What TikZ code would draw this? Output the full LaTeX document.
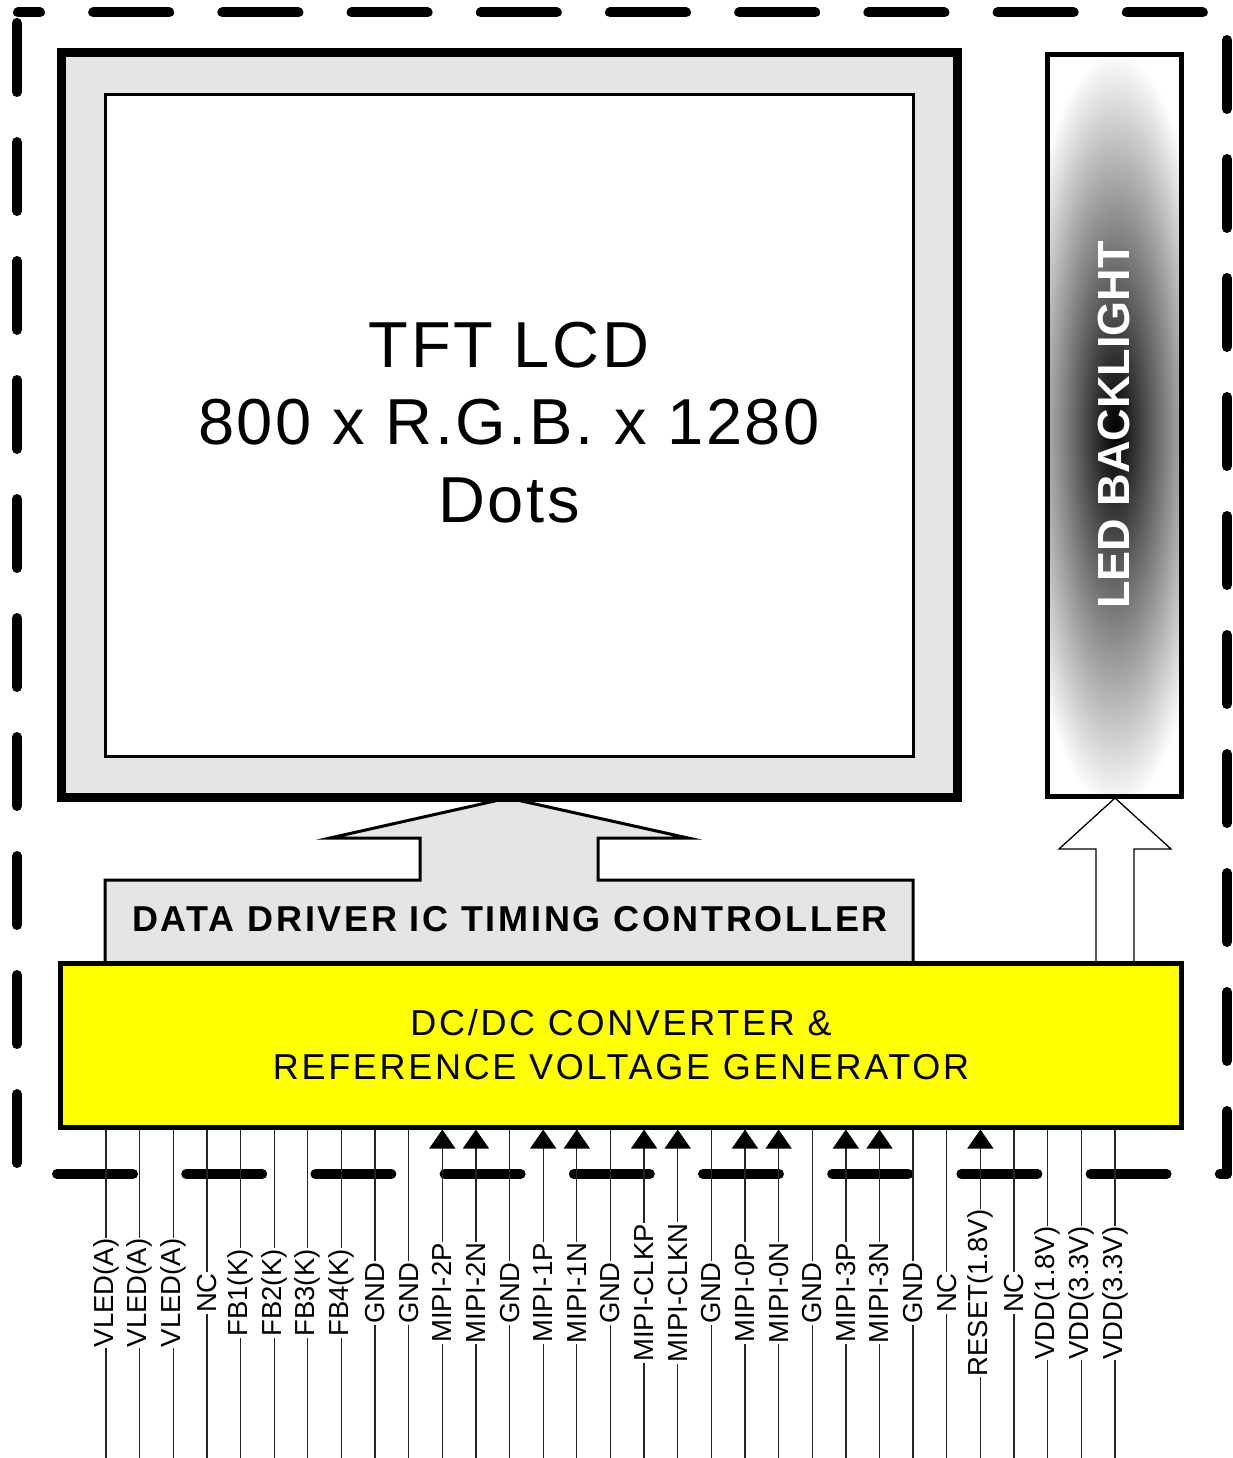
\documentclass[tikz,border=0pt]{standalone}
\usepackage{fontspec}
\setmainfont{Liberation Sans}
\newfontfamily\wideA[LetterSpace=7.5]{Liberation Sans}
\newfontfamily\wideB[LetterSpace=4]{Liberation Sans}
\usetikzlibrary{arrows.meta}
\definecolor{dcyellow}{RGB}{255,255,0}
\definecolor{panelgray}{RGB}{229,229,229}
\begin{document}
\begin{tikzpicture}[x=1pt,y=-1pt,
  border/.style={line width=10pt, line cap=round, black},
  hdash/.style={dash pattern=on 76pt off 53.2pt},
  vdash/.style={dash pattern=on 69pt off 50pt},
  pinline/.style={line width=1.3pt, black!85},
  pinlabel/.style={rotate=90, font=\fontsize{27.5}{30}\selectfont, inner xsep=1pt, inner ysep=0pt, outer sep=0pt},
  pinarrow/.style={-{Triangle[length=19pt,width=26pt,color=black]}},
  panel/.style={fill=panelgray}
]
\useasboundingbox (0,0) rectangle (1232,1458);

% outer dashed border
\draw[border, hdash, dash phase=54pt] (18,12.5) -- (1215,12.5);
\draw[border, vdash] (17,23) -- (17,1165);
\draw[border, vdash] (1227,40) -- (1227,1174);
\draw[border, hdash] (57,1174) -- (1227,1174);

% data driver box with block arrow to the LCD
\draw[panel, line width=3pt, line join=miter]
  (105,963) -- (105,880) -- (420,880) -- (420,838) -- (330,838) -- (508,798)
  -- (688,838) -- (598,838) -- (598,880) -- (913,880) -- (913,963);
\node[font=\wideA\bfseries\fontsize{36}{40}\selectfont] (dd) at (510,919) {DATA DRIVER IC TIMING CONTROLLER};

% LCD panel
\node[draw, line width=9pt, panel, minimum width=896pt, minimum height=744pt, inner sep=0pt] (lcd) at (509,425) {};
\node[draw, line width=3pt, fill=white, minimum width=808pt, minimum height=661pt, inner sep=0pt] (screen) at (509,425.5) {};
\node[align=center, font=\wideB\fontsize{65}{77.5}\selectfont] (lcdtext) at (screen.center) [yshift=3pt]
  {TFT LCD\\800 x R.G.B. x 1280\\Dots};

% hollow arrow to the backlight
\draw[line width=1.3pt, fill=white, line join=miter]
  (1096,963) -- (1096,849) -- (1059,849) -- (1115,798) -- (1171,849) -- (1134,849) -- (1134,963);

% LED backlight
\begin{scope}
  \clip (1047.5,54.5) rectangle (1181.5,796);
  \shade[inner color=black, outer color=white] (1115,430) ellipse [x radius=100, y radius=380];
\end{scope}
\node[draw, line width=5pt, minimum width=134pt, minimum height=741.5pt, inner sep=0pt] (led) at (1114.5,425.25) {};
\node[rotate=90, text=white, font=\bfseries\fontsize{45}{50}\selectfont] (ledtext) at (1114,425) {LED BACKLIGHT};

% DC/DC converter
\node[draw, line width=5pt, fill=dcyellow, minimum width=1121pt, minimum height=164pt, inner sep=0pt, align=center,
      font=\wideA\fontsize{36}{44}\selectfont] (dcdc) at (621,1045)
  {DC/DC CONVERTER \&\\REFERENCE VOLTAGE GENERATOR};

% pins
\foreach [count=\i] \lab/\arr in {VLED(A)/0, VLED(A)/0, VLED(A)/0, NC/0, FB1(K)/0, FB2(K)/0, FB3(K)/0, FB4(K)/0,
    GND/0, GND/0, MIPI-2P/1, MIPI-2N/1, GND/0, MIPI-1P/1, MIPI-1N/1, GND/0, MIPI-CLKP/1, MIPI-CLKN/1, GND/0,
    MIPI-0P/1, MIPI-0N/1, GND/0, MIPI-3P/1, MIPI-3N/1, GND/0, NC/0, RESET(1.8V)/1, NC/0,
    VDD(1.8V)/0, VDD(3.3V)/0, VDD(3.3V)/0}{
  \pgfmathsetmacro\px{106+(\i-1)*33.63}
  \node[pinlabel] (p\i) at (\px,1293) {\lab};
  \coordinate (b\i) at (\px,1458);
  \ifnum\arr=1
    \draw[pinline, pinarrow] (p\i.east) -- (p\i.east |- dcdc.south);
  \else
    \draw[pinline] (p\i.east) -- (p\i.east |- dcdc.south);
  \fi
  \draw[pinline] (p\i.west) -- (b\i);
}
\end{tikzpicture}
\end{document}
